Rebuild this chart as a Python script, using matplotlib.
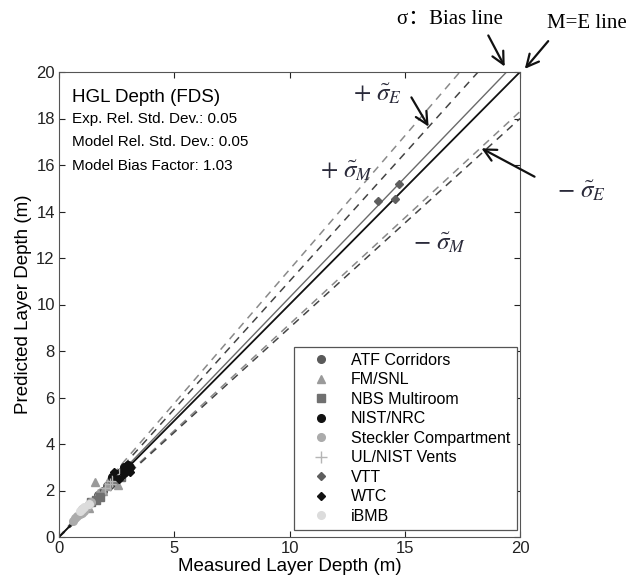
import numpy as np
import matplotlib
matplotlib.use("Agg")
import matplotlib.pyplot as plt

plt.rcParams['font.family'] = ['Liberation Sans', 'DejaVu Sans']
plt.rcParams['mathtext.fontset'] = 'stix'

# statistics shown in the box
exp_std = 0.05
model_std = 0.05
bias = 1.03

# slopes of the guide lines
line_slopes = [1.15, 1.10, 0.915, 0.90]
line_colors = ['#8a8a8a', '#444444', '#8a8a8a', '#444444']

# measured / predicted layer depth (m) per test series
atf_x = [1.7, 1.9, 2.1, 2.3, 2.5, 2.6, 2.8, 2.9]
atf_y = [1.8, 2.0, 2.2, 2.4, 2.6, 2.7, 2.8, 3.0]
fm_x = [1.55, 2.55, 1.9, 2.1, 1.7, 2.4, 1.3, 2.2]
fm_y = [2.38, 2.22, 2.0, 2.2, 1.9, 2.5, 1.25, 2.6]
nbs_x = [1.4, 1.6, 1.8, 2.4, 2.7]
nbs_y = [1.5, 1.6, 1.7, 2.5, 2.6]
nrc_x = [2.3, 2.5, 2.6, 2.7, 2.8, 2.9, 3.0, 3.1]
nrc_y = [2.6, 2.7, 2.6, 2.8, 3.0, 2.9, 3.1, 3.0]
steck_x = [0.6, 0.7, 0.8, 0.9, 1.0, 1.0, 1.1, 1.2, 1.3, 1.4]
steck_y = [0.7, 0.8, 0.9, 1.0, 1.2, 1.05, 1.1, 1.3, 1.4, 1.5]
ul_x = [2.0, 2.2, 2.3, 2.6]
ul_y = [2.1, 2.3, 2.4, 2.7]
vtt_x = [13.85, 14.58, 14.76]
vtt_y = [14.47, 14.53, 15.18]
wtc_x = [2.4, 2.6, 2.8, 2.9, 3.0, 3.1]
wtc_y = [2.8, 2.5, 2.7, 2.8, 2.9, 2.8]
ibmb_x = [0.9, 1.0, 1.1, 1.3]
ibmb_y = [1.1, 1.2, 1.3, 1.4]

series = [
    ("ATF Corridors", atf_x, atf_y, 'o', '#5a5a5a'),
    ("FM/SNL", fm_x, fm_y, '^', '#9a9a9a'),
    ("NBS Multiroom", nbs_x, nbs_y, 's', '#707070'),
    ("NIST/NRC", nrc_x, nrc_y, 'o', '#111111'),
    ("Steckler Compartment", steck_x, steck_y, 'o', '#ababab'),
    ("UL/NIST Vents", ul_x, ul_y, '+', '#b5b5b5'),
    ("VTT", vtt_x, vtt_y, 'D', '#5e5e5e'),
    ("WTC", wtc_x, wtc_y, 'D', '#111111'),
    ("iBMB", ibmb_x, ibmb_y, 'o', '#dcdcdc'),
]

fig = plt.figure(figsize=(6.36, 5.8), dpi=100)
ax = fig.add_axes([59/636, 1-537/580, 461/636, 465/580])

xx = np.array([0, 20])
for s, c in zip(line_slopes, line_colors):
    ax.plot(xx, s*xx, color=c, lw=1.1, dashes=(5, 4), zorder=2)
ax.plot(xx, bias*xx, color='#6a6a6a', lw=1.0, zorder=2)
ax.plot(xx, xx, color='#111111', lw=1.3, zorder=2)

for name, x, y, m, c in series:
    ms = 8 if m == '+' else (4.5 if m == 'D' else 5.5)
    ax.plot(x, y, linestyle='none', marker=m, color=c, markersize=ms,
            label=name, zorder=3)

ax.set_xlim(0, 20)
ax.set_ylim(0, 20)
ax.set_xticks([0, 5, 10, 15, 20])
ax.set_yticks(range(0, 21, 2))
ax.tick_params(direction='in', top=True, right=True, length=4,
               labelsize=12, colors='#222222', pad=3)
for sp in ax.spines.values():
    sp.set_color('#555555')
ax.set_xlabel("Measured Layer Depth (m)", fontsize=13.5, labelpad=1)
ax.set_ylabel("Predicted Layer Depth (m)", fontsize=13.5, labelpad=3)

ax.text(0.028, 0.946, "HGL Depth (FDS)", transform=ax.transAxes,
        fontsize=13.5, va='center')
ax.text(0.028, 0.899, f"Exp. Rel. Std. Dev.: {exp_std}", transform=ax.transAxes,
        fontsize=11, va='center')
ax.text(0.028, 0.849, f"Model Rel. Std. Dev.: {model_std}", transform=ax.transAxes,
        fontsize=11, va='center')
ax.text(0.028, 0.798, f"Model Bias Factor: {bias}", transform=ax.transAxes,
        fontsize=11, va='center')

leg = ax.legend(loc='lower right', bbox_to_anchor=(1.0, 0.008), fontsize=11.5,
                labelspacing=0.28, handlelength=2.7, handletextpad=0.5,
                borderpad=0.4, borderaxespad=0.2, fancybox=False, framealpha=1,
                numpoints=1)
leg.get_frame().set_edgecolor('#555555')
leg.get_frame().set_linewidth(0.9)

# annotations outside / over the axes, placed in figure pixels
def px(x, y):
    return (x, 580 - y)

serif = ['Liberation Serif', 'Noto Sans CJK SC']
arr = dict(arrowstyle='->', lw=1.6, color='#111111', mutation_scale=22)

fig.text(397/636, 1-19/580, "σ：Bias line", family=serif, fontsize=15,
         va='center', ha='left')
fig.text(547/636, 1-23/580, "M=E line", family=serif, fontsize=15,
         va='center', ha='left')
ax.annotate("", xy=px(506, 69), xytext=px(487, 33), xycoords='figure pixels',
            textcoords='figure pixels', arrowprops=arr, annotation_clip=False)
ax.annotate("", xy=px(523, 71), xytext=px(550, 39), xycoords='figure pixels',
            textcoords='figure pixels', arrowprops=arr, annotation_clip=False)
ax.annotate("", xy=px(430, 129), xytext=px(410, 95), xycoords='figure pixels',
            textcoords='figure pixels', arrowprops=arr, annotation_clip=False)
ax.annotate("", xy=px(479, 147), xytext=px(537, 178), xycoords='figure pixels',
            textcoords='figure pixels', arrowprops=arr, annotation_clip=False)

mcol = '#2a2a3a'
fig.text(353/636, 1-94/580, r"$+\ \tilde{\sigma}_E$", fontsize=18, color=mcol,
         va='center', ha='left')
fig.text(320/636, 1-171/580, r"$+\ \tilde{\sigma}_M$", fontsize=18, color=mcol,
         va='center', ha='left')
fig.text(557/636, 1-191/580, r"$-\ \tilde{\sigma}_E$", fontsize=18, color=mcol,
         va='center', ha='left')
fig.text(413/636, 1-243/580, r"$-\ \tilde{\sigma}_M$", fontsize=18, color=mcol,
         va='center', ha='left')

fig.savefig("out.png", dpi=100)
